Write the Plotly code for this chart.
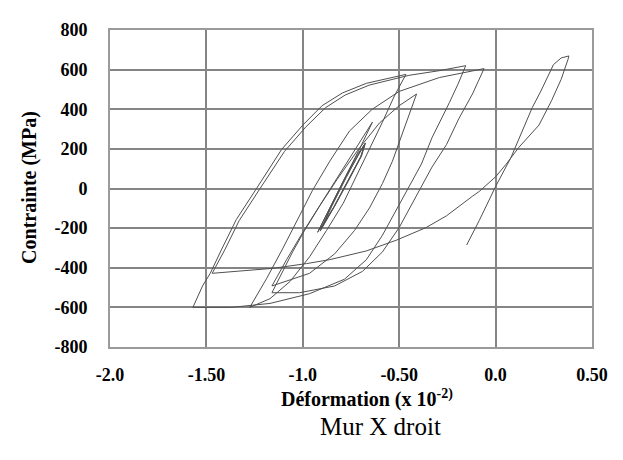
import plotly.graph_objects as go

# ---- data (strain x 10^-2, stress MPa), branch by branch ----
strain_b1 = [-0.15, -0.085, 0.0, 0.08, 0.19, 0.235, 0.30, 0.34, 0.38]
stress_b1 = [-285, -162, 10, 157, 408, 492, 625, 659, 669]

strain_b2 = [0.375, 0.34, 0.29, 0.225, 0.12, 0.055, 0.0, -0.085, -0.12, -0.255, -0.36, -0.515, -0.67, -0.86, -0.98, -1.155, -1.47]
stress_b2 = [650, 551, 443, 320, 207, 123, 59, -15, -39, -138, -197, -261, -315, -359, -379, -403, -428]

strain_b3 = [-1.405, -1.33, -1.225, -1.095, -0.985, -0.882, -0.78, -0.655, -0.45, -0.29, -0.155]
stress_b3 = [-310, -162, -5, 187, 310, 408, 472, 522, 571, 595, 620]

strain_b4 = [-0.195, -0.24, -0.287, -0.33, -0.385, -0.447, -0.50, -0.587, -0.67, -0.784, -0.965, -1.17, -1.37, -1.57]
stress_b4 = [527, 433, 344, 256, 123, 15, -84, -236, -359, -458, -531, -580, -600, -600]

strain_b5 = [-1.52, -1.48, -1.42, -1.345, -1.24, -1.11, -1.0, -0.90, -0.795, -0.67, -0.465]
stress_b5 = [-492, -428, -305, -157, 0, 197, 320, 418, 482, 531, 576]

strain_b6 = [-0.49, -0.525, -0.587, -0.655, -0.72, -0.79, -0.877, -0.965, -1.065, -1.17, -1.275]
stress_b6 = [531, 467, 335, 197, 64, -74, -212, -345, -468, -556, -600]

strain_b7 = [-1.187, -1.105, -1.017, -0.95, -0.86, -0.758, -0.64, -0.5, -0.292, -0.06]
stress_b7 = [-453, -305, -138, -10, 138, 290, 400, 490, 560, 605]

strain_b8 = [-0.09, -0.12, -0.19, -0.255, -0.33, -0.41, -0.50, -0.587, -0.69, -0.835, -1.017, -1.16]
stress_b8 = [541, 477, 354, 221, 108, -34, -197, -320, -418, -492, -526, -526]

strain_b9 = [-1.11, -1.053, -0.991, -0.913, -0.82, -0.716, -0.603, -0.5, -0.41]
stress_b9 = [-428, -320, -212, -89, 49, 192, 330, 418, 477]

strain_b10 = [-0.432, -0.463, -0.50, -0.535, -0.587, -0.654, -0.732, -0.835, -0.965, -1.095, -1.16]
stress_b10 = [418, 335, 236, 138, 25, -98, -212, -330, -428, -472, -492]

strain_b11 = [-1.084, -1.006, -0.923, -0.846, -0.768, -0.706, -0.639]
stress_b11 = [-359, -231, -103, 15, 133, 231, 335]

strain_b12 = [-0.695, -0.758, -0.82, -0.887, -0.923]
stress_b12 = [221, 98, -25, -148, -221]

strain_b13 = [-0.86, -0.784, -0.717, -0.68, -0.70, -0.77, -0.84, -0.905,
              -0.85, -0.775, -0.71, -0.675, -0.695, -0.765, -0.835, -0.91,
              -0.855, -0.78, -0.713, -0.678, -0.698, -0.768, -0.838, -0.915]
stress_b13 = [-98, 49, 172, 221, 160, 30, -95, -205,
              -90, 55, 175, 230, 165, 35, -90, -215,
              -95, 52, 170, 226, 162, 32, -92, -210]

x_tick_vals = [-2.0, -1.5, -1.0, -0.5, 0.0, 0.5]
x_tick_text = ["-2.0", "-1.50", "-1.0", "-0.50", "0.0", "0.50"]
y_tick_vals = [-800, -600, -400, -200, 0, 200, 400, 600, 800]
y_tick_text = ["-800", "-600", "-400", "-200", "0", "200", "400", "600", "800"]

strain = (strain_b1 + strain_b2 + strain_b3 + strain_b4 + strain_b5 + strain_b6 + strain_b7
          + strain_b8 + strain_b9 + strain_b10 + strain_b11 + strain_b12 + strain_b13)
stress = (stress_b1 + stress_b2 + stress_b3 + stress_b4 + stress_b5 + stress_b6 + stress_b7
          + stress_b8 + stress_b9 + stress_b10 + stress_b11 + stress_b12 + stress_b13)

SERIF = "Liberation Serif"

fig = go.Figure()
fig.add_trace(go.Scatter(x=strain, y=stress, mode="lines",
                         line=dict(color="#505050", width=1), showlegend=False,
                         hoverinfo="skip"))

fig.update_layout(
    width=615, height=452,
    margin=dict(l=102, r=31, t=14, b=113),
    paper_bgcolor="white", plot_bgcolor="white",
    showlegend=False,
    xaxis=dict(range=[-2.0, 0.5], tickvals=x_tick_vals, ticktext=x_tick_text,
               showgrid=True, gridcolor="#858585", gridwidth=1.5,
               showline=True, linecolor="#9a9a9a", linewidth=2, mirror=True,
               zeroline=False, ticks="", ticklabelstandoff=10,
               tickfont=dict(family=SERIF, size=18, color="black", weight="bold")),
    yaxis=dict(range=[-800, 800], tickvals=y_tick_vals, ticktext=y_tick_text,
               showgrid=True, gridcolor="#858585", gridwidth=1.5,
               showline=True, linecolor="#9a9a9a", linewidth=2, mirror=True,
               zeroline=False, ticks="", ticklabelstandoff=17,
               tickfont=dict(family=SERIF, size=18, color="black", weight="bold")),
    annotations=[
        dict(text="Contrainte (MPa)", xref="paper", yref="paper", x=-0.166, y=0.505,
             textangle=-90, showarrow=False, xanchor="center", yanchor="middle",
             font=dict(family=SERIF, size=20, color="black", weight="bold")),
        dict(text="Déformation (x 10<sup>-2)</sup>", xref="paper", yref="paper", x=0.533, y=-0.163,
             showarrow=False, xanchor="center", yanchor="middle",
             font=dict(family=SERIF, size=20, color="black", weight="bold")),
        dict(text="Mur X droit", xref="paper", yref="paper", x=0.562, y=-0.25,
             showarrow=False, xanchor="center", yanchor="middle",
             font=dict(family=SERIF, size=25, color="black")),
    ],
)

fig.write_html("out.html")
